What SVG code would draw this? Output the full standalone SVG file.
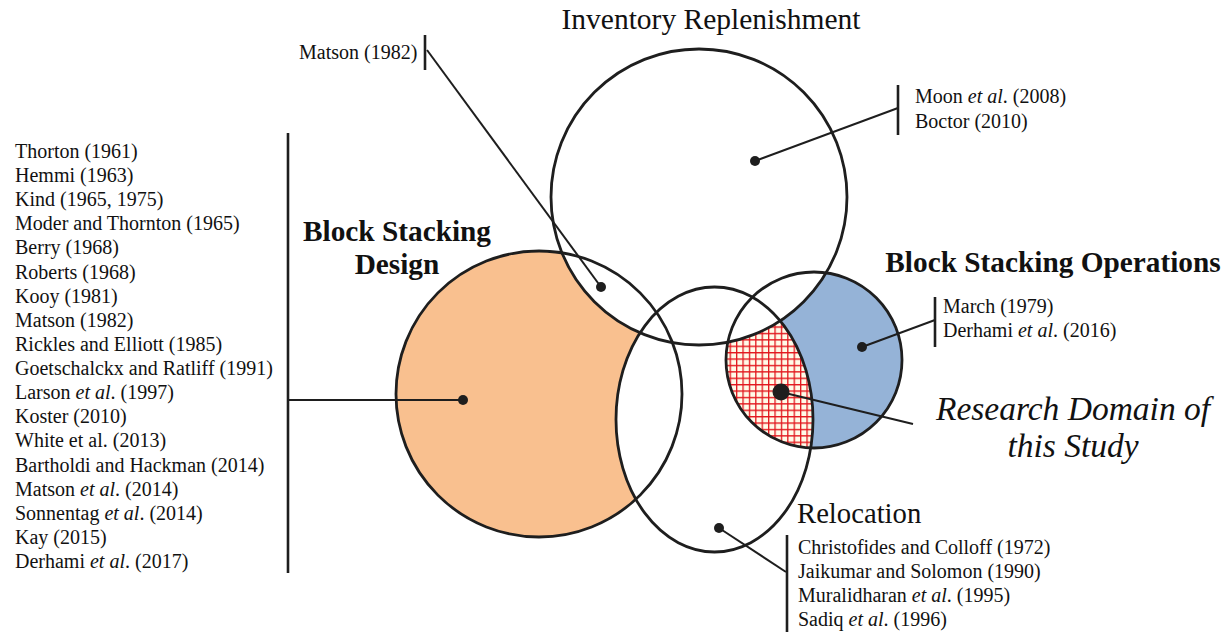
<svg xmlns="http://www.w3.org/2000/svg" width="1228" height="634" viewBox="0 0 1228 634">
  <style>
    .ring { fill: none; stroke: #1e1e1e; stroke-width: 2.8; }
    .lead { fill: none; stroke: #1e1e1e; stroke-width: 2; }
    .brk { fill: none; stroke: #1e1e1e; stroke-width: 2.6; }
    .dot { fill: #1e1e1e; }
    .ref { font-family: "Liberation Serif", "Times New Roman", serif; font-size: 20px; fill: #111; }
    .title { font-family: "Liberation Serif", "Times New Roman", serif; font-size: 29.5px; fill: #111; }
    .bold { font-family: "Liberation Serif", "Times New Roman", serif; font-size: 29.3px; font-weight: bold; fill: #111; }
    .focus { font-family: "Liberation Serif", "Times New Roman", serif; font-size: 33.5px; font-style: italic; fill: #111; }
    .it { font-style: italic; }
  </style>
  <defs>
    <pattern id="grid" patternUnits="userSpaceOnUse" x="0" y="0" width="6.4" height="6.4">
      <rect width="6.4" height="6.4" fill="#fffbe8"/>
      <path d="M0 0.6H6.4M0.6 0V6.4" stroke="#e2161c" stroke-width="1.4"/>
    </pattern>
    <clipPath id="opsClip">
      <circle cx="814" cy="360" r="88"/>
    </clipPath>
  </defs>

  <!-- region fills -->
  <g id="fills">
    <circle cx="539" cy="394" r="143" fill="#f9c08f"/>
    <ellipse cx="714.5" cy="419.5" rx="98.5" ry="132.5" fill="#ffffff"/>
    <circle cx="814" cy="360" r="88" fill="#95b3d7"/>
    <ellipse cx="714.5" cy="419.5" rx="98.5" ry="132.5" fill="url(#grid)" clip-path="url(#opsClip)"/>
    <circle cx="699" cy="197" r="148" fill="#ffffff"/>
  </g>

  <!-- set outlines -->
  <g id="design">
    <circle class="ring" cx="539" cy="394" r="143"/>
    <text class="bold" x="397" y="241" text-anchor="middle">Block Stacking</text>
    <text class="bold" x="397" y="274" text-anchor="middle">Design</text>
  </g>
  <g id="inventory">
    <circle class="ring" cx="699" cy="197" r="148"/>
    <text class="title" x="711" y="29" text-anchor="middle">Inventory Replenishment</text>
  </g>
  <g id="relocation">
    <ellipse class="ring" cx="714.5" cy="419.5" rx="98.5" ry="132.5"/>
    <text class="title" x="797" y="523" style="font-size:28.7px">Relocation</text>
  </g>
  <g id="operations">
    <circle class="ring" cx="814" cy="360" r="88"/>
    <text class="bold" x="1053" y="272" text-anchor="middle">Block Stacking Operations</text>
  </g>

  <!-- leaders, brackets and anchor dots -->
  <g id="connectors">
    <line class="lead" x1="463" y1="400" x2="288" y2="400"/>
    <line class="brk" x1="288" y1="133" x2="288" y2="573"/>
    <circle class="dot" cx="463" cy="400" r="5"/>

    <line class="lead" x1="601" y1="287" x2="427" y2="50"/>
    <line class="brk" x1="425" y1="35" x2="425" y2="70"/>
    <circle class="dot" cx="601" cy="287" r="5"/>

    <line class="lead" x1="755" y1="161" x2="898" y2="108"/>
    <line class="brk" x1="898" y1="85" x2="898" y2="135"/>
    <circle class="dot" cx="755" cy="161" r="5"/>

    <line class="lead" x1="862" y1="347" x2="935" y2="320"/>
    <line class="brk" x1="935" y1="297" x2="935" y2="347"/>
    <circle class="dot" cx="862" cy="347" r="5"/>

    <line class="lead" x1="781" y1="392" x2="913" y2="424" stroke-width="2.6"/>
    <circle class="dot" cx="781" cy="392" r="8.5"/>

    <line class="lead" x1="719" y1="528" x2="786" y2="572"/>
    <line class="brk" x1="787" y1="535" x2="787" y2="632"/>
    <circle class="dot" cx="719" cy="528" r="5"/>
  </g>

  <!-- reference lists -->
  <g id="design-refs" class="ref">
    <text x="15" y="158">Thorton (1961)</text>
    <text x="15" y="182">Hemmi (1963)</text>
    <text x="15" y="206">Kind (1965, 1975)</text>
    <text x="15" y="230">Moder and Thornton (1965)</text>
    <text x="15" y="254">Berry (1968)</text>
    <text x="15" y="279">Roberts (1968)</text>
    <text x="15" y="303">Kooy (1981)</text>
    <text x="15" y="327">Matson (1982)</text>
    <text x="15" y="351">Rickles and Elliott (1985)</text>
    <text x="15" y="375">Goetschalckx and Ratliff (1991)</text>
    <text x="15" y="399">Larson <tspan class="it">et al</tspan>. (1997)</text>
    <text x="15" y="423">Koster (2010)</text>
    <text x="15" y="447">White et al. (2013)</text>
    <text x="15" y="472">Bartholdi and Hackman (2014)</text>
    <text x="15" y="496">Matson <tspan class="it">et al</tspan>. (2014)</text>
    <text x="15" y="520">Sonnentag <tspan class="it">et al</tspan>. (2014)</text>
    <text x="15" y="544">Kay (2015)</text>
    <text x="15" y="568">Derhami <tspan class="it">et al</tspan>. (2017)</text>
  </g>
  <g id="overlap-ref" class="ref">
    <text x="299" y="59">Matson (1982)</text>
  </g>
  <g id="inventory-refs" class="ref">
    <text x="915" y="103">Moon <tspan class="it">et al</tspan>. (2008)</text>
    <text x="915" y="128">Boctor (2010)</text>
  </g>
  <g id="operations-refs" class="ref">
    <text x="943" y="313">March (1979)</text>
    <text x="943" y="337">Derhami <tspan class="it">et al</tspan>. (2016)</text>
  </g>
  <g id="relocation-refs" class="ref">
    <text x="798" y="554">Christofides and Colloff (1972)</text>
    <text x="798" y="578">Jaikumar and Solomon (1990)</text>
    <text x="798" y="602">Muralidharan <tspan class="it">et al</tspan>. (1995)</text>
    <text x="798" y="626">Sadiq <tspan class="it">et al</tspan>. (1996)</text>
  </g>
  <g id="study-domain">
    <text class="focus" x="1073" y="420" text-anchor="middle">Research Domain of</text>
    <text class="focus" x="1073" y="457" text-anchor="middle">this Study</text>
  </g>
</svg>
